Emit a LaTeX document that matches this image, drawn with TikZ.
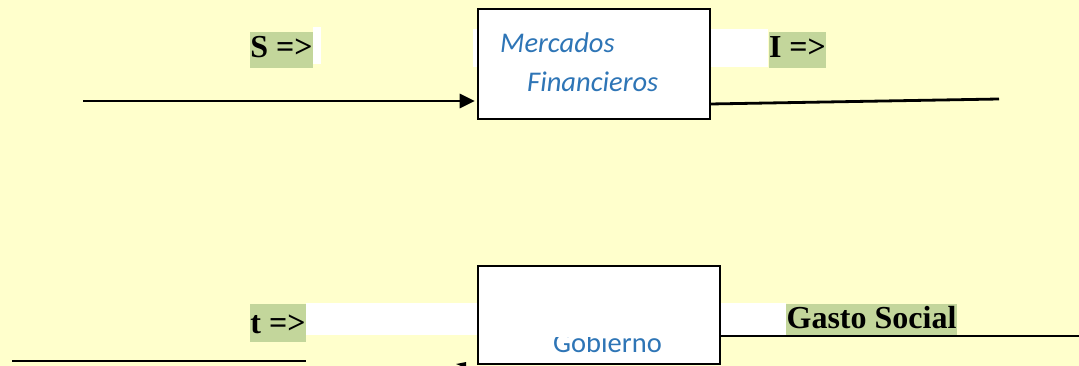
\documentclass[tikz,border=0pt]{standalone}
\usepackage{fontspec}
\setmainfont{Liberation Serif}
\newfontfamily\calfont{Carlito}
\usetikzlibrary{arrows.meta}
\definecolor{bgyellow}{HTML}{FFFFCC}
\definecolor{lblgreen}{HTML}{C3D69B}
\definecolor{txtblue}{HTML}{2E75B6}
\tikzset{
  box/.style={draw=black, line width=2.6pt, fill=white, inner sep=0pt},
  lbl/.style={fill=lblgreen, inner sep=0pt, font=\fontsize{32}{36}\selectfont\bfseries},
  conn/.style={line width=2.8pt},
  boxtext/.style={text=txtblue, inner sep=0pt, anchor=base west},
}
\begin{document}
\begin{tikzpicture}[x=1pt,y=-1pt]
\useasboundingbox (0,0) rectangle (1079,366);
\clip (0,0) rectangle (1079,366);
\fill[bgyellow] (0,0) rectangle (1079,366);
% white strips
\fill[white] (473,29) rectangle (768,67);
\fill[white] (313,27) rectangle (321,64);
\fill[white] (306,303) rectangle (786,335);
% boxes
\node[box, minimum width=232pt, minimum height=110pt] (mf) at (594,64) {};
\node[box, minimum width=242pt, minimum height=98pt] (gob) at (599,315) {};
\node[boxtext, font=\calfont\itshape\fontsize{28.5}{32}\selectfont] (mf1) at (500,53) {Mercados};
\node[boxtext, font=\calfont\itshape\fontsize{28.5}{32}\selectfont] (mf2) at (527,92) {Financieros};
\begin{scope}
\clip (478,337) rectangle (720,366);
\node[boxtext, font=\calfont\fontsize{28.5}{32}\selectfont] (gobt) at (553,352) {Gobierno};
\end{scope}
% labels
\node[lbl, minimum width=63pt, text height=26pt, text depth=10pt] (S) at (281.5,50) {S =>};
\node[lbl, minimum width=57pt, text height=26pt, text depth=10pt] (I) at (797.5,50) {I =>};
\node[lbl, minimum width=56pt, text height=29pt, text depth=9pt] (t) at (278,323) {t =>};
\node[lbl, minimum width=171pt, text height=24pt, text depth=7pt] (G) at (871.5,319.5) {Gasto Social};
% connectors
\coordinate (a1) at (83,101);
\draw[conn, -{Triangle[length=15pt,width=14pt]}, shorten >=2pt] (a1) -- (a1 -| mf.west);
\coordinate (b1) at (710,104);
\coordinate (b2) at (999,99);
\draw[conn] (b1) -- (b2);
\coordinate (c1) at (12,361);
\coordinate (c2) at (306,361);
\draw[conn] (c1) -- (c2);
\coordinate (d1) at (720,336);
\coordinate (d2) at (1079,336);
\draw[conn] (d1) -- (d2);
% clipped arrow tip fragment
\fill[black] (456,364) -- (466,362) -- (466,366) -- (461,366) -- cycle;
\end{tikzpicture}
\end{document}
